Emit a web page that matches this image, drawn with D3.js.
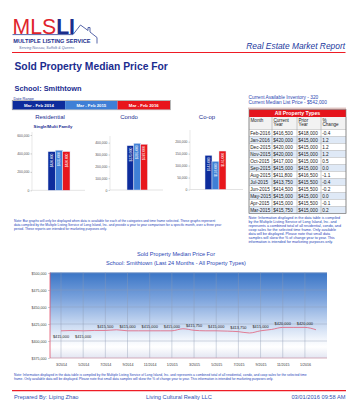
<!DOCTYPE html>
<html><head><meta charset="utf-8">
<script src="https://cdn.jsdelivr.net/npm/d3@7"></script>
<style>body{margin:0;background:#fff}svg{display:block}text{font-family:"Liberation Sans",Arial,sans-serif}</style>
</head><body><svg id="c" width="364" height="400"></svg>
<script>
// ---------- data ----------
const periodLabels = ["Mar - Feb 2014", "Mar - Feb 2015", "Mar - Feb 2016"];
const periodColors = ["#0d2c9c", "#3f7fd6", "#e8161c"];
const residentialValues = [420000, 435000, 420000];
const condoValues = [375000, 395000, 387000];
const coopValues = [143000, 118000, 161000];
const residentialTicks = [0, 200000, 400000, 600000];
const condoTicks = [0, 100000, 200000, 300000, 400000];
const coopTicks = [0, 50000, 100000, 150000, 200000];

const tableMonths = ["Feb-2016","Jan-2016","Dec-2015","Nov-2015","Oct-2015","Sep-2015","Aug-2015","Jul-2015","Jun-2015","May-2015","Apr-2015","Mar-2015"];
const tableCurrent = [416500, 420000, 420000, 420000, 417000, 415000, 411800, 413750, 414500, 415000, 415000, 415750];
const tablePrior = [418000, 415000, 415000, 415000, 415000, 415000, 416500, 415500, 415500, 415000, 415500, 415000];
const tableChange = ["-0.4","1.2","1.2","1.2","0.5","0.0","-1.1","-0.4","-0.2","0.0","-0.1","0.2"];

const lineMonths = ["2014-03","2014-04","2014-05","2014-06","2014-07","2014-08","2014-09","2014-10","2014-11","2014-12","2015-01","2015-02",
  "2015-03","2015-04","2015-05","2015-06","2015-07","2015-08","2015-09","2015-10","2015-11","2015-12","2016-01","2016-02"];
const lineValues = [415000, 415500, 415000, 415500, 415500, 416500, 415000, 415000, 415000, 415000, 415000, 418000,
  415750, 415000, 415000, 414500, 413750, 411800, 415000, 417000, 420000, 420000, 420000, 416500];
const lineTickLabels = ["3/2014","5/2014","7/2014","9/2014","11/2014","1/2015","3/2015","5/2015","7/2015","9/2015","11/2015","1/2016"];
const lineYTicks = [375000, 400000, 425000, 450000, 475000, 500000];

// ---------- drawing ----------
const svg = d3.select("#c");
const navy = "#1b2d8f", blue = "#2b46b2";

// header logo
const logo = svg.append("text").attr("transform", "translate(12.5,33.5) scale(0.965,1)").attr("font-size", 22);
logo.append("tspan").attr("fill", "#e0242c").text("MLS");
logo.append("tspan").attr("fill", "#1a2d8c").attr("font-weight", "bold").text("LI");
svg.append("path").attr("d", "M12.5,34.6 H73 L80.5,25 L88,30.5 V27.5 H90 V32 L97,37.5 V43.5")
  .attr("fill", "none").attr("stroke", "#2c3f93").attr("stroke-width", 0.8);
svg.append("text").attr("x", 13.3).attr("y", 42.8).attr("font-size", 5.6).attr("font-weight", "bold").attr("fill", "#1a2d8c").text("MULTIPLE LISTING SERVICE");
svg.append("text").attr("x", 19).attr("y", 49).attr("font-size", 3.6).attr("font-style", "italic").attr("fill", "#5a6aa8").text("Serving Nassau, Suffolk & Queens");
svg.append("text").attr("x", 345).attr("y", 49).attr("text-anchor", "end").attr("font-size", 8.4).attr("font-style", "italic").attr("fill", "#23399e").text("Real Estate Market Report");
svg.append("line").attr("x1", 12).attr("x2", 345.5).attr("y1", 52.5).attr("y2", 52.5).attr("stroke", "#ee1c25").attr("stroke-width", 1.2);

// titles
svg.append("text").attr("x", 14.5).attr("y", 69.7).attr("font-size", 10.3).attr("font-weight", "bold").attr("fill", navy).text("Sold Property Median Price For");
svg.append("text").attr("x", 14.5).attr("y", 90.8).attr("font-size", 7.4).attr("font-weight", "bold").attr("fill", navy).text("School: Smithtown");
svg.append("text").attr("x", 13.5).attr("y", 99.6).attr("font-size", 3.8).attr("fill", navy).text("Date Range");

// legend bar
const legX = d3.scaleBand().domain(periodLabels).range([12.7, 170]);
svg.append("rect").attr("x", 12.2).attr("y", 100.6).attr("width", 158.3).attr("height", 9.2).attr("fill", "none").attr("stroke", "#888").attr("stroke-width", 0.6);
periodLabels.forEach((p, i) => {
  svg.append("rect").attr("x", legX(p)).attr("y", 101).attr("width", legX.bandwidth()).attr("height", 8.4).attr("fill", periodColors[i]);
  svg.append("text").attr("x", legX(p) + legX.bandwidth() / 2).attr("y", 106.8).attr("text-anchor", "middle")
    .attr("font-size", 4.3).attr("font-weight", "bold").attr("fill", "#fff").text(p);
});

// inventory info
svg.append("text").attr("x", 248.5).attr("y", 99.4).attr("font-size", 4.8).attr("fill", blue).text("Current Available Inventory - 320");
svg.append("text").attr("x", 248.5).attr("y", 104).attr("font-size", 4.8).attr("fill", blue).text("Current Median List Price - $542,000");
svg.append("line").attr("x1", 248).attr("x2", 346).attr("y1", 108.2).attr("y2", 108.2).attr("stroke", "#a0524a").attr("stroke-width", 0.5);

// small bar charts
function barChart(cfg) {
  const y = d3.scaleLinear().domain([0, cfg.ticks[cfg.ticks.length - 1]]).range([cfg.y0, cfg.yTop]);
  const x = d3.scaleBand().domain(periodLabels).range([cfg.b0, cfg.b1]);
  const g = svg.append("g");
  g.append("line").attr("x1", cfg.ax).attr("x2", cfg.ax).attr("y1", cfg.y0).attr("y2", cfg.axTop).attr("stroke", "#d8d8d8").attr("stroke-width", 0.6);
  g.append("line").attr("x1", cfg.ax).attr("x2", cfg.axEnd).attr("y1", cfg.y0).attr("y2", cfg.y0).attr("stroke", "#d0d0d0").attr("stroke-width", 0.6);
  const axis = g.append("g").attr("transform", `translate(${cfg.ax},0)`)
    .call(d3.axisLeft(y).tickValues(cfg.ticks).tickSize(1.5).tickPadding(1).tickFormat(d3.format(",")));
  axis.select(".domain").remove();
  axis.selectAll("line").attr("stroke", "#888").attr("stroke-width", 0.4);
  axis.selectAll("text").attr("font-size", 3.4).attr("fill", "#555");
  cfg.values.forEach((v, i) => {
    const bx = x(periodLabels[i]);
    g.append("rect").attr("x", bx).attr("y", y(v)).attr("width", x.bandwidth()).attr("height", cfg.y0 - y(v))
      .attr("fill", periodColors[i]).attr("stroke", "#e4e8f4").attr("stroke-width", 0.5);
    g.append("text").attr("transform", `translate(${bx + x.bandwidth() / 2 + 1.2},${y(v) + 2}) rotate(-90)`)
      .attr("text-anchor", "end").attr("font-size", 3.3).attr("fill", "#fff").text(d3.format("$,")(v));
  });
  g.append("text").attr("x", cfg.tx).attr("y", 118.8).attr("text-anchor", "middle").attr("font-size", 6).attr("fill", navy).text(cfg.title);
  if (cfg.sub) g.append("text").attr("x", cfg.tx + 3).attr("y", 127.5).attr("text-anchor", "middle").attr("font-size", 4.3).attr("font-weight", "bold").attr("fill", navy).text(cfg.sub);
}
barChart({ values: residentialValues, ticks: residentialTicks, y0: 190.3, yTop: 135, ax: 32, axTop: 132, axEnd: 85, b0: 48, b1: 70, title: "Residential", sub: "Single/Multi Family", tx: 50 });
barChart({ values: condoValues, ticks: condoTicks, y0: 190, yTop: 142.7, ax: 110, axTop: 136, axEnd: 163, b0: 127, b1: 147.5, title: "Condo", tx: 129 });
barChart({ values: coopValues, ticks: coopTicks, y0: 189.5, yTop: 141.7, ax: 190, axTop: 130, axEnd: 243, b0: 205, b1: 226, title: "Co-op", tx: 207 });

// data table
const colX = [249, 272, 297, 321, 346];
const rowH = 7.0, rowTop = 129.5;
svg.append("rect").attr("x", 249).attr("y", 109.5).attr("width", 97).attr("height", 7.5).attr("fill", "#e5141c");
svg.append("text").attr("x", 297.5).attr("y", 115.2).attr("text-anchor", "middle").attr("font-size", 5.2).attr("font-weight", "bold").attr("fill", "#fff").text("All Property Types");
svg.append("rect").attr("x", 249).attr("y", 117).attr("width", 97).attr("height", 12.5).attr("fill", "#f2f2f2");
const heads = [["Month"], ["Current", "Year"], ["Prior", "Year"], ["%", "Change"]];
heads.forEach((h, i) => h.forEach((t, j) => svg.append("text").attr("x", colX[i] + 1.5).attr("y", 121.6 + j * 4.8).attr("font-size", 4.6).attr("fill", "#222").text(t)));
tableMonths.forEach((m, r) => {
  const yy = rowTop + r * rowH;
  svg.append("rect").attr("x", 249).attr("y", yy).attr("width", 97).attr("height", rowH).attr("fill", r % 2 ? "#dfe9f6" : "#fff");
  const cells = [m, d3.format("$,")(tableCurrent[r]), d3.format("$,")(tablePrior[r]), tableChange[r]];
  cells.forEach((c, i) => svg.append("text").attr("x", colX[i] + 1.2).attr("y", yy + 5.2).attr("font-size", 4.7).attr("fill", "#222").text(c));
  svg.append("line").attr("x1", 249).attr("x2", 346).attr("y1", yy).attr("y2", yy).attr("stroke", "#9a9a9a").attr("stroke-width", 0.4);
});
const tBottom = rowTop + tableMonths.length * rowH;
svg.append("line").attr("x1", 249).attr("x2", 346).attr("y1", tBottom).attr("y2", tBottom).attr("stroke", "#9a9a9a").attr("stroke-width", 0.4);
colX.forEach(cx => svg.append("line").attr("x1", cx).attr("x2", cx).attr("y1", 117).attr("y2", tBottom).attr("stroke", "#9a9a9a").attr("stroke-width", 0.5));
svg.append("rect").attr("x", 249).attr("y", 109.5).attr("width", 97).attr("height", tBottom - 109.5).attr("fill", "none").attr("stroke", "#777").attr("stroke-width", 0.6);

// notes
function lines(x, y0, dy, arr, size) {
  arr.forEach((t, i) => svg.append("text").attr("x", x).attr("y", y0 + i * dy).attr("font-size", size).attr("fill", "#2340b8").text(t));
}
lines(248.5, 218.5, 4.0, [
  "Note: Information displayed in the data table is compiled",
  "by the Multiple Listing Service of Long Island, Inc. and",
  "represents a combined total of all residential, condo, and",
  "coop sales for the selected time frame. Only available",
  "data will be displayed. Please note that small data",
  "samples will skew the % of change year to year. This",
  "information is intended for marketing purposes only."], 3.7);
lines(14, 221.5, 4.0, [
  "Note: Bar graphs will only be displayed when data is available for each of the categories and time frame selected. These graphs represent",
  "data compiled by the Multiple Listing Service of Long Island, Inc. and provide a year to year comparison for a specific month, over a three year",
  "period. These reports are intended for marketing purposes only."], 3.3);

// line chart
const lx = d3.scalePoint().domain(lineMonths).range([61, 316]);
const ly = d3.scaleLinear().domain([375000, 500000]).range([358, 273]);
const defs = svg.append("defs");
const grad = defs.append("linearGradient").attr("id", "bg").attr("x1", 0).attr("x2", 0).attr("y1", 0).attr("y2", 1);
[[0, "#3a75c6"], [0.3, "#7aa2dc"], [0.6, "#c7d8f1"], [0.8, "#f5f8fd"], [0.87, "#ffffff"], [1, "#e3e6f2"]]
  .forEach(([o, c]) => grad.append("stop").attr("offset", o).attr("stop-color", c));
svg.append("rect").attr("x", 50).attr("y", 272.5).attr("width", 277).attr("height", 85.5).attr("fill", "url(#bg)");
const tickMonths = lineMonths.filter((d, i) => i % 2 === 0);
tickMonths.forEach(m => svg.append("line").attr("x1", lx(m)).attr("x2", lx(m)).attr("y1", 272.5).attr("y2", 358).attr("stroke", "#8e9ab4").attr("stroke-width", 0.4));
lineYTicks.forEach(v => svg.append("line").attr("x1", 50).attr("x2", 327).attr("y1", ly(v)).attr("y2", ly(v)).attr("stroke", "#8e9ab4").attr("stroke-width", 0.4));
svg.append("line").attr("x1", 50).attr("x2", 327).attr("y1", 358).attr("y2", 358).attr("stroke", "#eca6b4").attr("stroke-width", 0.6);
svg.append("line").attr("x1", 50).attr("x2", 50).attr("y1", 272.5).attr("y2", 358).attr("stroke", "#e2506a").attr("stroke-width", 0.8);
const yAx = svg.append("g").attr("transform", "translate(50,0)")
  .call(d3.axisLeft(ly).tickValues(lineYTicks).tickSize(2).tickPadding(1.5).tickFormat(d3.format("$,")));
yAx.select(".domain").remove();
yAx.selectAll("line").attr("stroke", "#888").attr("stroke-width", 0.4);
yAx.selectAll("text").attr("font-size", 3.6).attr("fill", "#444");
const xAx = svg.append("g").attr("transform", "translate(0,358)")
  .call(d3.axisBottom(lx).tickValues(tickMonths).tickSize(0).tickPadding(5).tickFormat((d, i) => lineTickLabels[i]));
xAx.select(".domain").remove();
xAx.selectAll("text").attr("font-size", 3.6).attr("fill", "#333");
svg.append("path").datum(lineValues)
  .attr("d", d3.line().x((d, i) => lx(lineMonths[i])).y(d => ly(d)).curve(d3.curveMonotoneX))
  .attr("fill", "none").attr("stroke", "#e2607a").attr("stroke-width", 0.8);
lineValues.forEach((v, i) => {
  if (i % 2) return;
  const below = i < 4;
  svg.append("text").attr("x", lx(lineMonths[i])).attr("y", ly(v) + (below ? 7 : -2.8)).attr("text-anchor", "middle")
    .attr("font-size", 3.9).attr("fill", "#222").text(d3.format("$,")(v));
});
svg.append("text").attr("x", 176).attr("y", 256).attr("text-anchor", "middle").attr("font-family", "DejaVu Sans").attr("font-size", 5.6).attr("fill", "#2a46b4").text("Sold Property Median Price For");
svg.append("text").attr("x", 176).attr("y", 264.7).attr("text-anchor", "middle").attr("font-family", "DejaVu Sans").attr("font-size", 5.6).attr("fill", "#2a46b4").text("School: Smithtown (Last 24 Months - All Property Types)");

lines(14, 375.5, 4.0, [
  "Note: Information displayed in the data table is compiled by the Multiple Listing Service of Long Island, Inc. and represents a combined total of all residential, condo, and coop sales for the selected time",
  "frame. Only available data will be displayed. Please note that small data samples will skew the % of change year to year. This information is intended for marketing purposes only."], 3.3);

// footer
svg.append("line").attr("x1", 12).attr("x2", 346).attr("y1", 390.7).attr("y2", 390.7).attr("stroke", "#ee1c25").attr("stroke-width", 1.3);
svg.append("text").attr("x", 14).attr("y", 398.6).attr("font-size", 5.7).attr("fill", "#2f4fb3").text("Prepared By: Liping Zhao");
svg.append("text").attr("x", 179).attr("y", 398.6).attr("text-anchor", "middle").attr("font-size", 5.7).attr("fill", "#2f4fb3").text("Living Cultural Realty LLC");
svg.append("text").attr("x", 345.5).attr("y", 398.6).attr("text-anchor", "end").attr("font-size", 5.7).attr("fill", "#2f4fb3").text("03/01/2016 09:58 AM");
</script></body></html>
